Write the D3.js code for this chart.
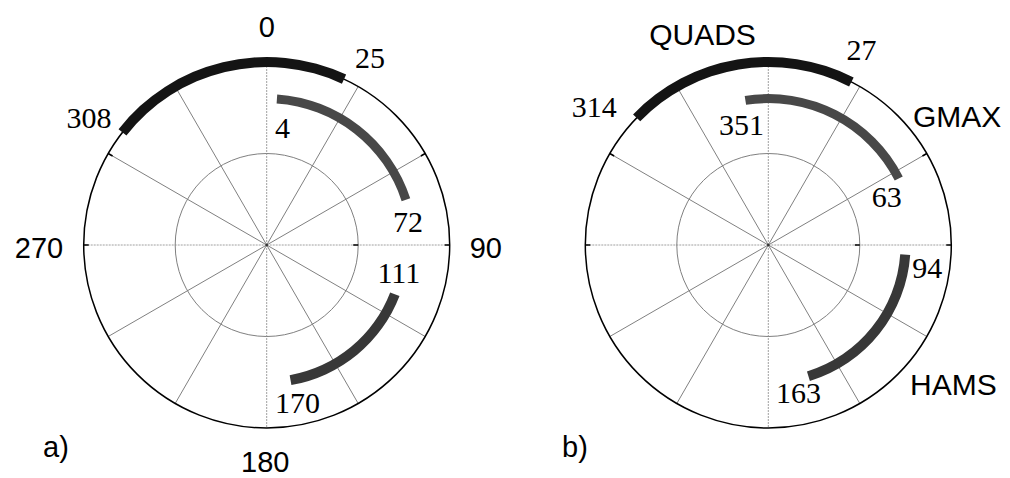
<!DOCTYPE html>
<html>
<head>
<meta charset="utf-8">
<script src="https://cdn.jsdelivr.net/npm/d3@7"></script>
<style>
  body { margin: 0; background: #fff; }
  svg { display: block; }
</style>
</head>
<body>
<svg id="chart" width="1010" height="478"></svg>
<script>
// Muscle activation windows over the gait cycle (degrees, clockwise from top)
const muscles = ["QUADS", "GMAX", "HAMS"];
const onsetA  = [308, 4, 111];
const offsetA = [25, 72, 170];
const onsetB  = [314, 351, 94];
const offsetB = [27, 63, 163];
const ringLevel = [1.0, 0.8, 0.75];          // radial level of each muscle's arc

// Polar grid
const spokeAngles = d3.range(0, 360, 30);
const gridRings = [0.5, 1];
const angleTickValues = [0, 90, 180, 270];
const angleTickLabels = ["0", "90", "180", "270"];
const panelLabels = ["a)", "b)"];

const svg = d3.select("#chart");
const R = 183;
const SANS = "'Liberation Sans', Arial, sans-serif";
const SERIF = "'Liberation Serif', 'Times New Roman', serif";
const arcColors = ["#141414", "#484848", "#383838"];
const arcWidth = [10, 9, 10];

const rScale = d3.scaleLinear().domain([0, 1]).range([0, R]);
const aScale = d3.scaleLinear().domain([0, 360]).range([0, 2 * Math.PI]);

function pt(deg, level) {
  const a = aScale(deg), r = rScale(level);
  return [r * Math.sin(a), -r * Math.cos(a)];
}

// Label placement relative to the arc end points: [dx, dy, anchor]
const layoutA = [
  { on: [-11, -4, "end"],    off: [11, -11, "start"] },
  { on: [-2, 39, "start"],   off: [2, 32, "middle"] },
  { on: [4, -11, "middle"],  off: [7, 33, "middle"] }
];
const layoutB = [
  { on: [-20, -1, "end"],    off: [-5, -22, "start"] },
  { on: [-4, 35, "middle"],  off: [-12, 28, "middle"] },
  { on: [7, 23, "start"],    off: [-10, 27, "middle"] }
];

const panels = [
  { cx: 266.7, cy: 245, onset: onsetA, offset: offsetA, layout: layoutA, axisLabels: true,
    tag: panelLabels[0], tagPos: [43, 457] },
  { cx: 768.3, cy: 245, onset: onsetB, offset: offsetB, layout: layoutB, axisLabels: false,
    tag: panelLabels[1], tagPos: [562, 457],
    names: [[702.5, 45, "middle"], [913, 127, "start"], [910, 395, "start"]] }
];

panels.forEach(p => {
  const g = svg.append("g").attr("transform", `translate(${p.cx},${p.cy})`);

  // spokes
  g.selectAll("line.spoke").data(spokeAngles).join("line")
    .attr("class", "spoke")
    .attr("x1", 0).attr("y1", 0)
    .attr("x2", d => pt(d, 1)[0]).attr("y2", d => pt(d, 1)[1])
    .attr("stroke", d => d % 90 === 0 ? "#a0a0a0" : "#808080")
    .attr("stroke-width", 1)
    .attr("stroke-dasharray", d => d % 90 === 0 ? "2,1" : null);

  // inner ring
  g.append("circle").attr("r", rScale(gridRings[0]))
    .attr("fill", "none").attr("stroke", "#808080").attr("stroke-width", 1);
  // outer ring
  g.append("circle").attr("r", rScale(gridRings[1]))
    .attr("fill", "none").attr("stroke", "#000").attr("stroke-width", 1.5);

  // small tick marks on rings
  const ticks = [[60, 1], [90, 1], [270, 1], [300, 1], [90, 0.5]];
  g.selectAll("line.tick").data(ticks).join("line")
    .attr("class", "tick")
    .attr("x1", d => pt(d[0], d[1])[0]).attr("y1", d => pt(d[0], d[1])[1])
    .attr("x2", d => pt(d[0], d[1] - 5 / R)[0]).attr("y2", d => pt(d[0], d[1] - 5 / R)[1])
    .attr("stroke", "#000").attr("stroke-width", 1.5);

  g.append("circle").attr("r", 1.3).attr("fill", "#333");

  // activation arcs
  muscles.forEach((m, i) => {
    let s = p.onset[i], e = p.offset[i];
    if (e < s) e += 360;
    const r = rScale(ringLevel[i]);
    const arc = d3.arc()
      .innerRadius(r - arcWidth[i] / 2)
      .outerRadius(r + arcWidth[i] / 2)
      .startAngle(aScale(s))
      .endAngle(aScale(e));
    g.append("path").attr("d", arc()).attr("fill", arcColors[i]);

    // onset / offset values
    [[p.onset[i], p.layout[i].on], [p.offset[i], p.layout[i].off]].forEach(([v, lay]) => {
      const [x, y] = pt(v, ringLevel[i]);
      g.append("text")
        .attr("x", x + lay[0]).attr("y", y + lay[1])
        .attr("text-anchor", lay[2])
        .attr("font-family", SERIF).attr("font-size", 30)
        .attr("fill", "#000")
        .text(v);
    });
  });

  // angle labels
  if (p.axisLabels) {
    const pos = [[0, -208, "middle"], [203, 13, "start"], [-1.5, 227, "middle"], [-203.5, 13, "end"]];
    angleTickValues.forEach((v, k) => {
      g.append("text")
        .attr("x", pos[k][0]).attr("y", pos[k][1])
        .attr("text-anchor", pos[k][2])
        .attr("font-family", SANS).attr("font-size", 29)
        .text(angleTickLabels[k]);
    });
  }

  // muscle names
  if (p.names) {
    muscles.forEach((m, i) => {
      svg.append("text")
        .attr("x", p.names[i][0]).attr("y", p.names[i][1])
        .attr("text-anchor", p.names[i][2])
        .attr("font-family", SANS).attr("font-size", 30)
        .text(m);
    });
  }

  svg.append("text")
    .attr("x", p.tagPos[0]).attr("y", p.tagPos[1])
    .attr("font-family", SANS).attr("font-size", 29)
    .text(p.tag);
});
</script>
</body>
</html>
